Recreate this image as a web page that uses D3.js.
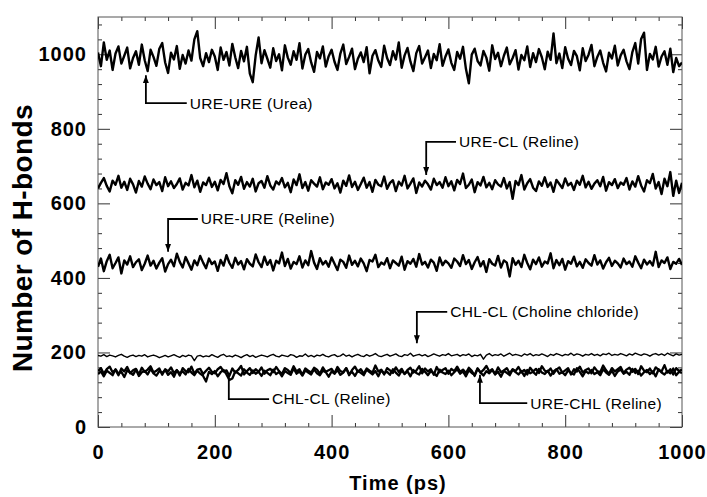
<!DOCTYPE html>
<html>
<head>
<meta charset="utf-8">
<script src="https://cdn.jsdelivr.net/npm/d3@7"></script>
<style>
  body { margin: 0; background: #fff; }
  text { font-family: Arial, "Liberation Sans", sans-serif; }
</style>
</head>
<body>
<svg id="chart" width="707" height="497"></svg>
<script>
// sampling grid of the trajectory (ps)
var times = d3.range(0, 1001, 5);

var ureUreUrea = [
  1005, 968, 1032, 985, 1010, 958, 1002, 1021, 975, 996, 1018, 962, 990, 1008, 972, 1026, 984, 955, 1012, 993,
  969, 1015, 1030, 978, 950, 1004, 986, 1022, 961, 998, 975, 1010, 983, 1040, 1062, 990, 968, 1003, 979, 1012,
  994, 958, 1018, 985, 1006, 970, 1028, 992, 963, 1009, 981, 1020, 948, 925, 997, 1045, 976, 1011, 988, 964,
  1016, 982, 1000, 957, 1024, 991, 972, 1008, 985, 1030, 962, 999, 1014, 978, 953, 1006, 989, 1021, 967, 995,
  1012, 980, 958, 1002, 1026, 974, 993, 1015, 960, 988, 1005, 979, 1019, 949, 996, 1011, 983, 966, 1023, 990,
  971, 1008, 986, 1032, 964, 997, 1017, 980, 955, 1003, 1022, 975, 992, 1010, 963, 1001, 984, 1027, 969, 994,
  1013, 977, 958, 1006, 988, 1020, 961, 922, 999, 1015, 982, 970, 1009, 991, 956, 1024, 987, 1004, 968, 996,
  1018, 973, 990, 1011, 959, 998, 984, 1021, 966, 1003, 979, 1014, 992, 960, 1007, 985, 1056, 976, 1002, 963,
  1019, 988, 971, 1009, 995, 957, 1016, 982, 999, 1025, 968, 993, 1010, 977, 954, 1004, 989, 1023, 970, 997,
  1012, 981, 960, 1006, 1030, 975, 1041, 1058, 958, 1001, 986, 1020, 967, 994, 1008, 972, 1015, 952, 990, 968,
  978
];

var ureClReline = [
  640, 655, 668, 647, 632, 661, 650, 674, 642, 658, 636, 666, 651, 629, 660, 645, 672, 653, 638, 664,
  649, 657, 633, 670, 646, 659, 641, 652, 667, 637, 655, 648, 676, 643, 661, 631, 656, 649, 669, 644,
  658, 635, 663, 652, 681, 646, 627, 662, 650, 671, 639, 657, 645, 666, 632, 654, 660, 642, 673, 648,
  637, 659, 651, 668, 643, 655, 630, 664, 649, 678, 641, 657, 634, 662, 653, 645, 670, 638, 656, 650,
  665, 640, 654, 629, 661, 647, 675, 644, 658, 636, 652, 669, 642, 657, 631, 663, 650, 646, 672, 639,
  655, 662, 633, 658, 648, 674, 640, 653, 667, 628, 656, 645, 661, 651, 637, 666, 649, 657, 642, 670,
  646, 659, 635, 663, 652, 680, 641, 650, 664, 630, 657, 648, 671, 643, 655, 638, 662, 651, 645, 668,
  640, 657, 612, 660, 649, 676, 637, 654, 665, 642, 633, 659, 647, 670, 644, 656, 631, 663, 652, 641,
  667, 648, 655, 636, 661, 650, 674, 643, 658, 639, 653, 662, 646, 671, 634, 657, 649, 665, 641, 656,
  650, 668, 637, 659, 645, 673, 648, 632, 662, 654, 679, 640, 657, 625, 666, 646, 684, 620, 661, 628,
  655
];

var ureUreReline = [
  430, 452, 418, 445, 462, 426, 440, 455, 412, 447, 436, 458, 429, 442, 450, 421, 438, 460, 433, 446,
  425, 441, 453, 417, 437, 449, 431, 465, 443, 428, 456, 439, 422, 447, 434, 459, 441, 426, 452, 437,
  444, 419, 448, 433, 461, 440, 427, 454, 436, 445, 423, 450, 438, 431, 463, 442, 429, 457, 435, 448,
  420, 446, 439, 468, 432, 451, 425, 443, 437, 458, 428, 447, 434, 472, 441, 424, 453, 436, 445, 430,
  455, 438, 421, 449, 443, 427, 460, 435, 446, 431, 452, 439, 418, 448, 444, 462, 429, 441, 436, 453,
  426, 447, 440, 433, 457, 422, 445, 438, 451, 430, 464, 436, 443, 428, 449, 441, 419, 455, 434, 446,
  439, 427, 452, 444, 432, 461, 437, 448, 424, 442, 456, 431, 445, 416, 450, 438, 433, 459, 428, 447,
  441, 404, 453, 435, 446, 429, 462, 440, 423, 449, 437, 455, 430, 444, 439, 466, 426, 448, 434, 451,
  422, 445, 438, 457, 431, 443, 427, 450, 440, 433, 461, 436, 447, 425, 442, 454, 432, 446, 439, 428,
  452, 437, 444, 430, 458, 441, 426, 449, 436, 445, 433, 470, 429, 447, 440, 455, 424, 443, 438, 451,
  435
];

var chlClCholine = [
  192, 190, 194, 189, 193, 191, 188, 192, 195, 190, 187, 191, 193, 189, 192, 190, 194, 188, 191, 193,
  190, 186, 189, 192, 188, 191, 194, 190, 187, 192, 189, 193, 191, 178, 190, 192, 188, 191, 189, 194,
  190, 187, 192, 195, 189, 191, 188, 193, 190, 186, 191, 194, 189, 192, 187, 190, 193, 191, 188, 192,
  195, 190, 188, 193, 191, 189, 194, 192, 187, 191, 190, 196, 189, 192, 188, 193, 191, 195, 190, 188,
  192, 194, 189, 191, 196, 190, 193, 188, 192, 195, 191, 189, 194, 190, 193, 197, 191, 189, 192, 195,
  190, 193, 196, 191, 189, 194, 192, 198, 190, 193, 195, 191, 194, 189, 192, 196, 193, 190, 194, 192,
  197, 191, 193, 195, 190, 194, 192, 196, 189, 193, 191, 195, 182, 193, 197, 191, 194, 192, 196, 190,
  194, 198, 192, 195, 193, 190, 196, 193, 197, 191, 194, 192, 196, 193, 189, 195, 192, 197, 194, 191,
  195, 193, 198, 192, 196, 194, 190, 195, 193, 197, 192, 195, 191, 196, 194, 198, 192, 195, 193, 197,
  194, 191, 196, 193, 198, 195, 192, 196, 194, 190, 195, 197, 193, 196, 192, 198, 194, 191, 196, 193,
  195
];

var ureChlReline = [
  150, 158, 143, 155, 162, 147, 153, 139, 157, 149, 161, 144, 152, 156, 141, 159, 148, 154, 163, 146,
  151, 157, 140, 155, 149, 160, 145, 153, 138, 158, 150, 147, 162, 143, 154, 156, 142, 151, 159, 148,
  144, 155, 161, 149, 152, 137, 157, 146, 153, 164, 141, 150, 158, 145, 155, 148, 160, 143, 152, 156,
  147, 161, 150, 142, 158, 153, 145, 163, 149, 155, 140, 157, 151, 146, 159, 154, 143, 160, 148, 152,
  156, 144, 161, 150, 147, 158, 139, 153, 162, 148, 155, 143, 157, 151, 146, 165, 149, 154, 141, 158,
  152, 145, 160, 148, 156, 142, 153, 159, 146, 151, 163, 144, 157, 149, 155, 140, 161, 147, 153, 158,
  143, 156, 150, 162, 148, 154, 145, 159, 151, 137, 157, 146, 153, 164, 149, 155, 142, 160, 147, 152,
  158, 144, 155, 150, 161, 147, 153, 141, 159, 149, 156, 145, 163, 151, 148, 157, 143, 154, 160, 146,
  152, 158, 141, 155, 149, 162, 146, 153, 157, 144, 160, 150, 147, 165, 152, 143, 158, 149, 155, 161,
  145, 154, 159, 148, 156, 142, 163, 151, 147, 157, 144, 160, 153, 149, 166, 146, 155, 141, 158, 150,
  154
];

var chlClReline = [
  142, 149, 136, 151, 145, 139, 155, 143, 148, 134, 152, 146, 140, 154, 137, 147, 150, 141, 156, 144,
  138, 150, 145, 153, 140, 147, 135, 152, 144, 149, 141, 156, 146, 139, 151, 143, 137, 122, 148, 142,
  150, 136, 147, 153, 141, 126, 130, 149, 144, 138, 155, 146, 140, 152, 143, 148, 137, 151, 145, 139,
  154, 142, 148, 136, 150, 145, 140, 157, 143, 149, 138, 152, 146, 141, 155, 144, 139, 151, 147, 135,
  149, 143, 153, 140, 146, 158, 142, 148, 137, 151, 145, 139, 154, 147, 141, 150, 136, 152, 144, 148,
  140, 155, 146, 138, 151, 143, 149, 136, 153, 145, 141, 156, 148, 139, 150, 144, 137, 154, 146, 142,
  151, 139, 147, 155, 143, 149, 136, 152, 145, 140, 157, 146, 138, 150, 144, 153, 141, 148, 135, 151,
  145, 139, 154, 147, 141, 150, 137, 153, 144, 148, 140, 156, 146, 142, 151, 138, 149, 155, 143, 147,
  139, 152, 145, 141, 158, 148, 136, 150, 144, 153, 142, 147, 139, 155, 146, 140, 151, 137, 149, 154,
  143, 148, 140, 156, 145, 151, 138, 147, 153, 142, 149, 136, 155, 146, 141, 150, 144, 157, 139, 148,
  145
];

var xTicks = [0, 200, 400, 600, 800, 1000];
var yTicks = [0, 200, 400, 600, 800, 1000];

// labels with arrows: tip / elbow in data units, line runs to endT
var notes = [
  {label: "URE-URE (Urea)", tip: [82, 944], elbow: [82, 869], endT: 152, head: true},
  {label: "URE-CL (Reline)", tip: [562, 676], elbow: [562, 765], endT: 613, head: true},
  {label: "URE-URE (Reline)", tip: [120, 470], elbow: [120, 558], endT: 171, head: true},
  {label: "CHL-CL (Choline chloride)", tip: [546, 225], elbow: [546, 309], endT: 598, head: true},
  {label: "URE-CHL (Reline)", tip: [654, 140], elbow: [654, 64], endT: 735, head: true},
  {label: "CHL-CL (Reline)", tip: [224, 145], elbow: [224, 75], endT: 293, head: false}
];

var svg = d3.select("#chart"),
    margin = {top: 17, right: 25, bottom: 70, left: 98},
    width = 707 - margin.left - margin.right,
    height = 497 - margin.top - margin.bottom;

svg.append("rect").attr("width", 707).attr("height", 497).attr("fill", "#fff");

var g = svg.append("g").attr("transform", "translate(" + margin.left + "," + margin.top + ")");

var x = d3.scaleLinear().domain([0, 1000]).range([0, width]);
var y = d3.scaleLinear().domain([0, 1100]).range([height, 0]);

svg.append("defs").append("clipPath").attr("id", "plot")
  .append("rect").attr("width", width).attr("height", height);

var minorX = d3.range(0, 1001, 40).filter(function(d) { return d % 200 != 0; });
var minorY = d3.range(0, 1100, 40).filter(function(d) { return d % 200 != 0; });
var fmt = d3.format("d");

function styleAxis(sel) {
  sel.select(".domain").remove();
  sel.selectAll(".tick line").attr("stroke", "#333");
  sel.selectAll("text")
    .style("font-size", "20px")
    .style("font-weight", "bold")
    .style("letter-spacing", "1px")
    .attr("fill", "#000");
}

// major + minor ticks on all four sides, pointing inward
g.append("g").attr("transform", "translate(0," + height + ")")
  .call(d3.axisBottom(x).tickValues(xTicks).tickSize(-12).tickPadding(18).tickFormat(fmt))
  .call(styleAxis);
g.append("g").attr("transform", "translate(0," + height + ")")
  .call(d3.axisBottom(x).tickValues(minorX).tickSize(-4).tickFormat(""))
  .call(styleAxis);
g.append("g")
  .call(d3.axisTop(x).tickValues(xTicks).tickSize(-12).tickFormat(""))
  .call(styleAxis);
g.append("g")
  .call(d3.axisTop(x).tickValues(minorX).tickSize(-4).tickFormat(""))
  .call(styleAxis);
g.append("g")
  .call(d3.axisLeft(y).tickValues(yTicks).tickSize(-12).tickPadding(11).tickFormat(fmt))
  .call(styleAxis);
g.append("g")
  .call(d3.axisLeft(y).tickValues(minorY).tickSize(-4).tickFormat(""))
  .call(styleAxis);
g.append("g").attr("transform", "translate(" + width + ",0)")
  .call(d3.axisRight(y).tickValues(yTicks).tickSize(-12).tickFormat(""))
  .call(styleAxis);
g.append("g").attr("transform", "translate(" + width + ",0)")
  .call(d3.axisRight(y).tickValues(minorY).tickSize(-4).tickFormat(""))
  .call(styleAxis);

g.append("rect")
  .attr("width", width).attr("height", height)
  .attr("fill", "none").attr("stroke", "#555").attr("stroke-width", 1);

var line = d3.line()
  .x(function(d, i) { return x(times[i]); })
  .y(function(d) { return y(d); });

var series = [
  {values: chlClCholine, w: 1.4},
  {values: ureChlReline, w: 2.3},
  {values: chlClReline, w: 2.3},
  {values: ureUreReline, w: 2.4},
  {values: ureClReline, w: 2.4},
  {values: ureUreUrea, w: 2.4}
];

g.append("g").attr("clip-path", "url(#plot)")
  .selectAll("path").data(series).enter().append("path")
  .attr("fill", "none")
  .attr("stroke", "#000")
  .attr("stroke-width", function(d) { return d.w; })
  .attr("stroke-linejoin", "round")
  .attr("d", function(d) { return line(d.values); });

// arrow annotations
svg.select("defs").append("marker")
  .attr("id", "head")
  .attr("viewBox", "0 0 8 6")
  .attr("refX", 8).attr("refY", 3)
  .attr("markerUnits", "userSpaceOnUse")
  .attr("markerWidth", 8).attr("markerHeight", 6)
  .attr("orient", "auto-start-reverse")
  .append("path").attr("d", "M0,0L8,3L0,6Z").attr("fill", "#000");

var ann = g.append("g");
notes.forEach(function(n) {
  var path = d3.path();
  path.moveTo(x(n.tip[0]), y(n.tip[1]));
  path.lineTo(x(n.elbow[0]), y(n.elbow[1]));
  path.lineTo(x(n.endT), y(n.elbow[1]));
  ann.append("path")
    .attr("d", path.toString())
    .attr("fill", "none")
    .attr("stroke", "#000")
    .attr("stroke-width", 1.8)
    .attr("marker-start", n.head ? "url(#head)" : null);
  ann.append("text")
    .attr("x", x(n.endT) + 3)
    .attr("y", y(n.elbow[1]))
    .attr("dy", "0.35em")
    .style("font-size", "15.5px")
    .style("letter-spacing", "0.3px")
    .text(n.label);
});

svg.append("text")
  .attr("x", 398).attr("y", 490)
  .attr("text-anchor", "middle")
  .style("font-size", "20px")
  .style("font-weight", "bold")
  .style("letter-spacing", "1px")
  .text("Time (ps)");

svg.append("text")
  .attr("transform", "translate(32,238) rotate(-90)")
  .attr("text-anchor", "middle")
  .style("font-size", "28px")
  .style("font-weight", "bold")
  .style("letter-spacing", "0.4px")
  .text("Number of H-bonds");
</script>
</body>
</html>
